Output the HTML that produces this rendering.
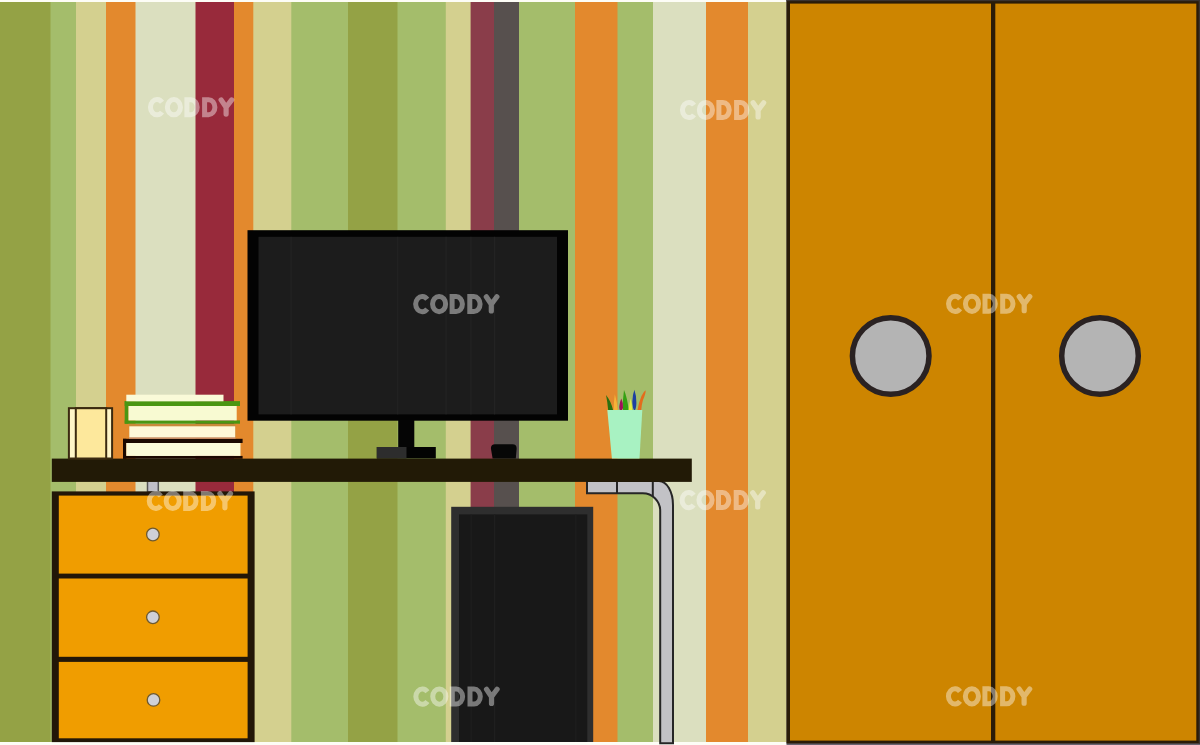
<!DOCTYPE html>
<html>
<head>
<meta charset="utf-8">
<style>
html,body{margin:0;padding:0;background:#ffffff;width:1200px;height:745px;overflow:hidden;}
svg{display:block;position:absolute;left:0;top:0;}
.wm{font-family:"Liberation Sans",sans-serif;font-weight:bold;fill:#ffffff;fill-opacity:0.42;}
</style>
</head>
<body>
<svg width="1200" height="745" viewBox="0 0 1200 745" shape-rendering="geometricPrecision">
  <rect x="0" y="0" width="1200" height="745" fill="#fdfdf6"/>
  <!-- stripes -->
  <g>
    <rect x="0" y="2" width="51.5" height="740" fill="#94a245"/>
    <rect x="50.5" y="2" width="26.5" height="740" fill="#a4bd6b"/>
    <rect x="76" y="2" width="31" height="740" fill="#d4d08f"/>
    <rect x="106" y="2" width="30.5" height="740" fill="#e3892d"/>
    <rect x="135.5" y="2" width="61" height="740" fill="#dbdfbf"/>
    <rect x="195.5" y="2" width="39.5" height="740" fill="#982a3b"/>
    <rect x="234" y="2" width="20.3" height="740" fill="#e3892d"/>
    <rect x="253.3" y="2" width="39" height="740" fill="#d4d08f"/>
    <rect x="291.3" y="2" width="57.7" height="740" fill="#a4bd6b"/>
    <rect x="348" y="2" width="50.5" height="740" fill="#94a245"/>
    <rect x="397.5" y="2" width="49.3" height="740" fill="#a4bd6b"/>
    <rect x="445.8" y="2" width="25.8" height="740" fill="#d4d08f"/>
    <rect x="470.6" y="2" width="24.4" height="740" fill="#8a3d4a"/>
    <rect x="494" y="2" width="26" height="740" fill="#57504e"/>
    <rect x="519" y="2" width="57" height="740" fill="#a4bd6b"/>
    <rect x="575" y="2" width="43.5" height="740" fill="#e3892d"/>
    <rect x="617.5" y="2" width="36.5" height="740" fill="#a4bd6b"/>
    <rect x="653" y="2" width="54" height="740" fill="#dbdfbf"/>
    <rect x="706" y="2" width="43" height="740" fill="#e3892d"/>
    <rect x="748" y="2" width="41" height="740" fill="#d4d08f"/>
  </g>

  <!-- wardrobe -->
  <rect x="786.5" y="0" width="413.5" height="745" fill="#686470"/>
  <rect x="786.5" y="0" width="413.5" height="743.5" fill="#2a1c08"/>
  <rect x="790" y="3.6" width="201" height="737" fill="#cd8500"/>
  <rect x="995.3" y="3.6" width="201" height="737" fill="#cd8500"/>
  <rect x="786.5" y="0" width="413.5" height="1.2" fill="#3a3430"/>
  <rect x="1198.7" y="0" width="1.3" height="743.5" fill="#3a3430"/>
  <circle cx="890.7" cy="356" r="38.3" fill="#b4b4b4" stroke="#2a2222" stroke-width="5.5"/>
  <circle cx="1100" cy="356" r="38.3" fill="#b4b4b4" stroke="#2a2222" stroke-width="5.5"/>

  <!-- monitor -->
  <rect x="247.5" y="230.2" width="320.5" height="190.5" fill="#030303"/>
  <rect x="258.5" y="236.8" width="298.5" height="177.6" fill="#1c1c1c"/>
  <g fill="#232323"><rect x="290.5" y="236.8" width="1.2" height="177.6"/><rect x="397.1" y="236.8" width="1.2" height="177.6"/><rect x="445.5" y="236.8" width="1.2" height="177.6"/><rect x="470.3" y="236.8" width="1.2" height="177.6"/><rect x="494.0" y="236.8" width="1.2" height="177.6"/></g>
  <rect x="398.2" y="420" width="16.1" height="27.5" fill="#050505"/>
  <rect x="376.8" y="447" width="59" height="11.5" fill="#030303"/>
  <rect x="376.8" y="447" width="29.7" height="11.5" fill="#2d2d2d"/>
  <!-- mouse -->
  <path d="M492.6,458.6 L491,449 Q490.5,444.2 495,444.2 L512.5,444.2 Q517,444.2 516.6,449 L515.8,458.6 Z" fill="#070707"/>

  <!-- desk leg -->
  <path d="M587,481 H659 A14 24 0 0 1 673,505 V743.2 H660.2 V511 A17.5 17.5 0 0 0 642.7,493.3 H587 Z" fill="#c2c2c6" stroke="#262626" stroke-width="2"/>
  <line x1="617" y1="481" x2="617" y2="494" stroke="#262626" stroke-width="2"/>
  <line x1="652.8" y1="481" x2="652.8" y2="496" stroke="#262626" stroke-width="2"/>
  <!-- small bracket -->
  <rect x="147.5" y="481" width="10.8" height="11" fill="#c0c0c8" stroke="#555" stroke-width="1.5"/>

  <!-- tower -->
  <rect x="451.2" y="506.8" width="142" height="235.2" fill="#2e2e2e"/>
  <rect x="459" y="514.4" width="128.3" height="227.6" fill="#181818"/>

  <g fill="#1f1f1f"><rect x="470.59999999999997" y="514.4" width="1.2" height="227.6"/><rect x="494.0" y="514.4" width="1.2" height="227.6"/><rect x="575.1999999999999" y="514.4" width="1.2" height="227.6"/></g>
  <!-- desk top -->
  <rect x="51.8" y="458.6" width="640" height="23.3" fill="#221a06"/>

  <!-- cabinet -->
  <rect x="51.8" y="491.4" width="202.8" height="250.7" fill="#221708"/>
  <rect x="58.8" y="495.6" width="188.8" height="78" fill="#f09d00"/>
  <rect x="58.8" y="578.5" width="188.8" height="78.3" fill="#f09d00"/>
  <rect x="58.8" y="661.9" width="188.8" height="76.4" fill="#f09d00"/>
  <circle cx="152.9" cy="534.5" r="6.3" fill="#cfd0d6" stroke="#6e5a30" stroke-width="1.3"/>
  <circle cx="152.9" cy="617.3" r="6.3" fill="#cfd0d6" stroke="#6e5a30" stroke-width="1.3"/>
  <circle cx="153.5" cy="699.9" r="6.3" fill="#cfd0d6" stroke="#6e5a30" stroke-width="1.3"/>

  <!-- small box -->
  <rect x="68.9" y="408.2" width="43.2" height="50.3" fill="#fff6c8" stroke="#3b2a10" stroke-width="2"/>
  <rect x="75.8" y="408.2" width="30.4" height="50.3" fill="#fde89c" stroke="#3b2a10" stroke-width="2"/>

  <!-- books -->
  <rect x="123" y="438.8" width="119.6" height="4.2" fill="#1a0800"/>
  <rect x="123" y="438.8" width="3.3" height="19.8" fill="#1a0800"/>
  <rect x="123" y="455.9" width="119.6" height="2.8" fill="#1a0800"/>
  <rect x="126.3" y="443" width="114.2" height="12.9" fill="#fafad8"/>
  <rect x="129" y="423.7" width="106.5" height="15.1" fill="#c98a3a"/>
  <rect x="129" y="437.2" width="106.5" height="1.6" fill="#c88a6a"/>
  <rect x="129.3" y="426.3" width="105.9" height="11" fill="#fff8d8"/>
  <rect x="124.7" y="401.1" width="115.3" height="4.9" fill="#4a9612"/>
  <rect x="124.7" y="420.4" width="115.3" height="3.3" fill="#4a9612"/>
  <rect x="124.7" y="401.1" width="3.8" height="22.6" fill="#4a9612"/>
  <rect x="128.5" y="406" width="108.2" height="14.4" fill="#f8fad2"/>
  <rect x="126.3" y="394.7" width="97.2" height="6.6" fill="#fafad8"/>

  <!-- pencil cup -->
  <g>
    <path d="M606,395 Q611,401 613.2,410.5 L608.2,410.5 Q607.5,402 606,395 Z" fill="#2a7010"/>
    <path d="M614.8,394.2 Q617,401 617.8,410.5 L613.6,410.5 Q613.8,401 614.8,394.2 Z" fill="#f6b238"/>
    <path d="M621.3,398.5 Q623.5,403 623,408 Q622,410.5 620.8,410.5 Q619,410 619.3,406 Q619.8,402 621.3,398.5 Z" fill="#a0105a"/>
    <path d="M624,390 Q627.5,398 628.6,410.5 L623,410.5 Q622.5,399 624,390 Z" fill="#34a012"/>
    <path d="M630.6,398.5 Q632.2,404 632.2,410.5 L628.6,410.5 Q629.2,404 630.6,398.5 Z" fill="#e4f042"/>
    <path d="M634.4,389.8 Q636.6,396 636.4,403 Q636.2,409 634.6,410.5 Q632.6,409 632.3,402 Q632.4,395 634.4,389.8 Z" fill="#1e40a0"/>
    <path d="M645.6,390.2 Q646,393 643,400 Q641.5,405 641.2,410.5 L637.4,410.5 Q638.5,403 641.5,396 Q643.5,391.5 645.6,390.2 Z" fill="#e46c1c"/>
    <path d="M607.3,409.9 L642.3,409.9 L639.5,458.6 L611.9,458.6 Z" fill="#a8f2c2"/>
  </g>

  <!-- watermarks -->
  <defs>
    <g id="wm" fill="none" stroke="#ffffff" stroke-width="5">
      <path d="M427.2,299.2 A6.55 7.6 0 1 0 427.2,309" stroke-linecap="butt"/>
      <ellipse cx="439.1" cy="304.1" rx="6.55" ry="7.6"/>
      <path d="M452.1,296.6 H456.1 A6.3 7.5 0 0 1 456.1,311.6 H452.1 Z" stroke-linejoin="miter"/>
      <path d="M469.8,296.6 H473.8 A6.3 7.5 0 0 1 473.8,311.6 H469.8 Z" stroke-linejoin="miter"/>
      <path d="M486.3,296.8 L491.3,304.2 L496.9,296.8 M491.3,304 V311" stroke-width="5.2" stroke-linecap="round" stroke-linejoin="round"/>
    </g>
  </defs>
  <use href="#wm" x="-265.2" y="-196.90" opacity="0.42"/>
  <use href="#wm" x="266.8" y="-194.10" opacity="0.42"/>
  <use href="#wm" x="0.0" y="0.00" opacity="0.42"/>
  <use href="#wm" x="532.9" y="-0.25" opacity="0.42"/>
  <use href="#wm" x="-266.4" y="196.8" opacity="0.42"/>
  <use href="#wm" x="266.4" y="196.00" opacity="0.42"/>
  <use href="#wm" x="0.2" y="392.50" opacity="0.42"/>
  <use href="#wm" x="532.8" y="392.25" opacity="0.42"/>
</svg>
</body>
</html>
